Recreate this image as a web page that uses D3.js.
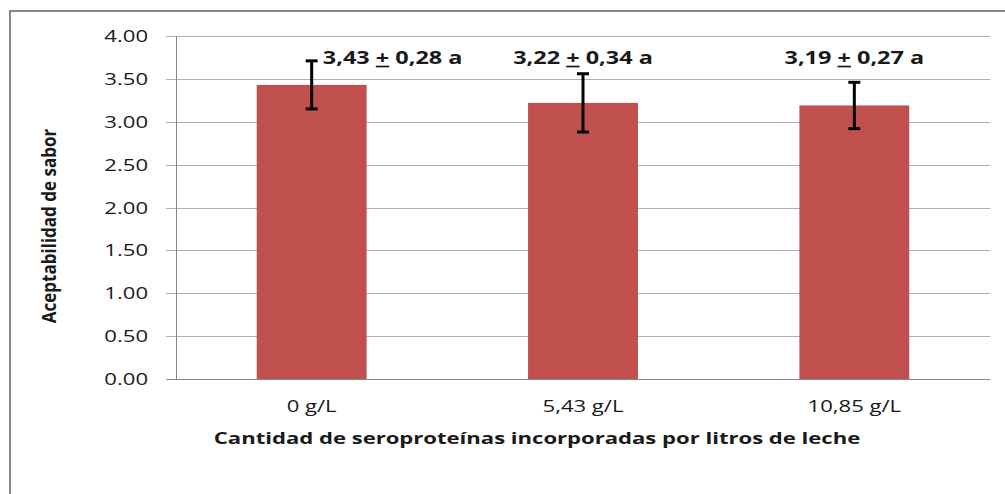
<!DOCTYPE html>
<html>
<head>
<meta charset="utf-8">
<script src="https://cdn.jsdelivr.net/npm/d3@7"></script>
<style>
  body { margin: 0; background: #fff; }
  text { font-family: "Open Sans", sans-serif; fill: #1a1a1a; }
</style>
</head>
<body>
<div id="chart"></div>
<script>
// Data
const categories = ['0 g/L', '5,43 g/L', '10,85 g/L'];
const means = [3.43, 3.22, 3.19];
const errors = [0.28, 0.34, 0.27];
const labels = ['3,43', '3,22', '3,19'];
const errLabels = ['0,28', '0,34', '0,27'];
const groups = ['a', 'a', 'a'];
const yTicks = [0, 0.5, 1, 1.5, 2, 2.5, 3, 3.5, 4];

// Set the dimensions
const W = 1005, H = 494;
const margin = {top: 36, right: 15, bottom: 115, left: 176};
const width = W - margin.left - margin.right;
const height = H - margin.top - margin.bottom;
const sx = 1.38; // text in the picture is stretched horizontally

const svg = d3.select('#chart')
    .append('svg')
    .attr('width', W)
    .attr('height', H);

// outer frame
svg.append('rect')
    .attr('x', 10).attr('y', 11)
    .attr('width', 1100).attr('height', 600)
    .attr('fill', 'none')
    .attr('stroke', '#868686')
    .attr('stroke-width', 2);

const g = svg.append('g')
    .attr('transform', `translate(${margin.left}, ${margin.top})`);

// Define the scales
const x = d3.scaleBand()
    .domain(categories)
    .range([0, width])
    .paddingInner(0.595)
    .paddingOuter(0.2975);
const y = d3.scaleLinear()
    .domain([0, 4])
    .range([height, 0]);

// grid lines
g.selectAll('.grid')
    .data(yTicks)
    .enter()
    .append('line')
    .attr('x1', -10).attr('x2', width)
    .attr('y1', d => Math.round(y(d)) + 0.5)
    .attr('y2', d => Math.round(y(d)) + 0.5)
    .attr('stroke', d => d === 0 ? '#888' : '#b0b0b0')
    .attr('stroke-width', 1);

// y axis line
g.append('line')
    .attr('x1', 0.5).attr('x2', 0.5)
    .attr('y1', 0).attr('y2', height)
    .attr('stroke', '#888');

// y tick labels
g.selectAll('.ytick')
    .data(yTicks)
    .enter()
    .append('text')
    .attr('transform', d => `translate(-28, ${y(d) + 6}) scale(${sx},1)`)
    .attr('text-anchor', 'end')
    .style('font-size', '16px')
    .text(d => d3.format('.2f')(d));

// bars
g.selectAll('.bar')
    .data(means)
    .enter()
    .append('rect')
    .attr('x', (d, i) => x(categories[i]))
    .attr('y', d => y(d))
    .attr('width', x.bandwidth())
    .attr('height', d => height - y(d))
    .attr('fill', '#C0504D');

// error bars
const cx = i => x(categories[i]) + x.bandwidth() / 2;
const eb = g.selectAll('.err')
    .data(means)
    .enter()
    .append('g')
    .attr('stroke', '#000')
    .attr('stroke-width', 3);
eb.append('line')
    .attr('x1', (d, i) => cx(i)).attr('x2', (d, i) => cx(i))
    .attr('y1', (d, i) => y(d + errors[i]))
    .attr('y2', (d, i) => y(d - errors[i]));
eb.append('line')
    .attr('x1', (d, i) => cx(i) - 6).attr('x2', (d, i) => cx(i) + 6)
    .attr('y1', (d, i) => y(d + errors[i]))
    .attr('y2', (d, i) => y(d + errors[i]));
eb.append('line')
    .attr('x1', (d, i) => cx(i) - 6).attr('x2', (d, i) => cx(i) + 6)
    .attr('y1', (d, i) => y(d - errors[i]))
    .attr('y2', (d, i) => y(d - errors[i]));

// value labels (first one is pushed right of its error bar)
const labelShift = [81, 0, 0];
const vl = g.selectAll('.vlab')
    .data(means)
    .enter()
    .append('text')
    .attr('transform', (d, i) => `translate(${cx(i) + labelShift[i]}, ${y(4) + 28}) scale(${sx},1)`)
    .attr('text-anchor', 'middle')
    .style('font-size', '17px')
    .style('font-weight', 'bold');
vl.append('tspan').text((d, i) => labels[i] + ' ');
vl.append('tspan').style('text-decoration', 'underline').text('+');
vl.append('tspan').text((d, i) => ' ' + errLabels[i] + ' ' + groups[i]);

// x category labels
g.selectAll('.xlab')
    .data(categories)
    .enter()
    .append('text')
    .attr('transform', d => `translate(${x(d) + x.bandwidth() / 2}, ${height + 33}) scale(${sx},1)`)
    .attr('text-anchor', 'middle')
    .style('font-size', '16px')
    .text(d => d);

// axis titles
svg.append('text')
    .attr('transform', `translate(537, 444) scale(${sx},1)`)
    .attr('text-anchor', 'middle')
    .style('font-size', '16px')
    .style('font-weight', 'bold')
    .text('Cantidad de seroproteínas incorporadas por litros de leche');

svg.append('text')
    .attr('transform', `translate(56, 226) scale(1.2,1) rotate(-90)`)
    .attr('text-anchor', 'middle')
    .style('font-size', '17px')
    .style('font-weight', 'bold')
    .text('Aceptabilidad de sabor');
</script>
</body>
</html>
